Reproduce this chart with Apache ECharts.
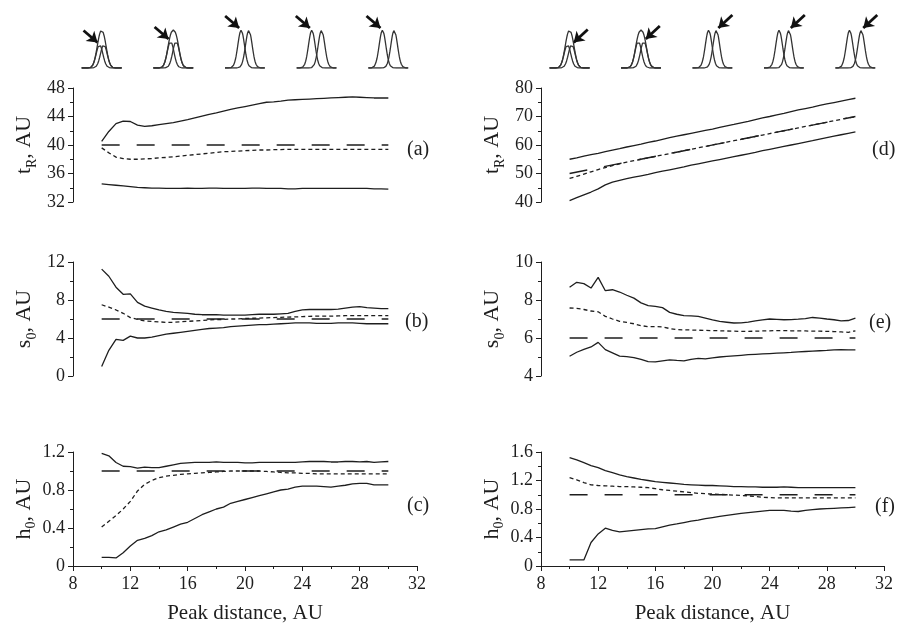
<!DOCTYPE html>
<html><head><meta charset="utf-8">
<script src="https://cdn.jsdelivr.net/npm/echarts@6/dist/echarts.min.js"></script>
<style>html,body{margin:0;padding:0;background:#fff}#c{width:897px;height:626px}</style>
</head><body><div id="c"></div>
<script>
// ---- data ----
const xs = [10,10.5,11,11.5,12,12.5,13,13.5,14,14.5,15,15.5,16,16.5,17,17.5,18,18.5,19,19.5,20,20.5,21,21.5,22,22.5,23,23.5,24,24.5,25,25.5,26,26.5,27,27.5,28,28.5,29,29.5,30];
const trueXs = [10, 30];

// (a) tR of first peak
const aUpper = [40.5,41.9,43.0,43.35,43.3,42.8,42.6,42.7,42.85,43.0,43.15,43.35,43.55,43.8,44.05,44.3,44.5,44.75,45.0,45.2,45.4,45.6,45.8,46.0,46.05,46.15,46.3,46.35,46.4,46.45,46.5,46.55,46.6,46.65,46.7,46.75,46.7,46.65,46.6,46.6,46.6];
const aMean  = [39.6,38.9,38.3,38.1,38.0,38.0,38.05,38.1,38.2,38.25,38.35,38.45,38.55,38.65,38.75,38.85,38.95,39.05,39.1,39.15,39.2,39.25,39.3,39.3,39.35,39.35,39.4,39.4,39.4,39.4,39.4,39.4,39.4,39.4,39.4,39.4,39.4,39.4,39.4,39.4,39.4];
const aLower = [34.55,34.45,34.35,34.25,34.15,34.05,34.0,33.95,33.95,33.9,33.9,33.9,33.95,33.9,33.9,33.95,33.95,33.9,33.9,33.9,33.9,33.95,33.95,33.9,33.9,33.9,33.85,33.85,33.9,33.9,33.9,33.9,33.9,33.9,33.9,33.9,33.9,33.9,33.85,33.85,33.8];
const aTrue  = [40, 40];

// (b) s0 of first peak
const bUpper = [11.25,10.5,9.35,8.6,8.65,7.75,7.35,7.15,6.95,6.8,6.7,6.65,6.6,6.5,6.45,6.45,6.45,6.4,6.4,6.4,6.4,6.45,6.5,6.5,6.5,6.55,6.6,6.8,6.95,7.0,7.0,7.0,7.0,7.05,7.15,7.25,7.3,7.2,7.15,7.1,7.1];
const bMean  = [7.5,7.25,6.95,6.6,6.15,5.95,5.8,5.75,5.7,5.65,5.65,5.7,5.75,5.8,5.85,5.9,5.95,5.95,6.0,6.0,6.05,6.08,6.1,6.12,6.15,6.18,6.2,6.22,6.25,6.28,6.3,6.3,6.3,6.32,6.35,6.35,6.35,6.35,6.35,6.35,6.35];
const bLower = [1.0,2.7,3.85,3.75,4.2,4.0,4.0,4.1,4.25,4.4,4.5,4.6,4.7,4.8,4.9,5.0,5.05,5.1,5.2,5.25,5.3,5.35,5.4,5.4,5.45,5.5,5.55,5.6,5.6,5.6,5.55,5.55,5.55,5.6,5.6,5.6,5.55,5.5,5.5,5.5,5.5];
const bTrue  = [6, 6];

// (c) h0 of first peak
const cUpper = [1.185,1.16,1.09,1.05,1.045,1.03,1.04,1.035,1.035,1.05,1.065,1.08,1.085,1.09,1.09,1.09,1.095,1.09,1.09,1.09,1.085,1.085,1.09,1.09,1.09,1.09,1.09,1.09,1.095,1.1,1.1,1.1,1.095,1.095,1.1,1.1,1.095,1.1,1.09,1.095,1.1];
const cMean  = [0.41,0.47,0.53,0.6,0.68,0.79,0.86,0.9,0.93,0.945,0.955,0.965,0.97,0.975,0.98,0.985,0.99,0.995,1.0,1.0,1.0,1.0,1.0,0.995,0.99,0.985,0.98,0.98,0.975,0.975,0.97,0.97,0.97,0.97,0.97,0.97,0.97,0.97,0.97,0.97,0.97];
const cLower = [0.09,0.09,0.085,0.14,0.21,0.27,0.29,0.32,0.36,0.38,0.41,0.44,0.46,0.5,0.54,0.57,0.6,0.62,0.66,0.68,0.7,0.72,0.74,0.76,0.78,0.8,0.81,0.83,0.84,0.84,0.84,0.835,0.83,0.84,0.85,0.865,0.87,0.87,0.855,0.855,0.855];
const cTrue  = [1, 1];

// (d) tR of second peak
const dUpper = [55.0,55.5,56.1,56.6,57.1,57.7,58.2,58.7,59.3,59.8,60.3,60.9,61.4,62.0,62.6,63.1,63.6,64.1,64.6,65.1,65.6,66.2,66.7,67.2,67.8,68.3,68.9,69.5,70.0,70.6,71.1,71.7,72.3,72.8,73.3,73.9,74.4,74.9,75.4,75.9,76.4];
const dMean  = [48.3,49.0,49.8,50.6,51.4,52.1,52.8,53.4,54.0,54.5,55.0,55.5,56.0,56.5,57.0,57.5,58.0,58.5,59.0,59.5,60.0,60.5,61.0,61.5,62.0,62.5,63.0,63.5,64.0,64.5,65.0,65.5,66.0,66.5,67.0,67.5,68.0,68.5,69.0,69.5,69.9];
const dLower = [40.5,41.5,42.5,43.5,44.6,46.0,47.0,47.6,48.2,48.7,49.2,49.7,50.3,50.8,51.3,51.8,52.3,52.9,53.4,53.9,54.4,54.9,55.4,55.9,56.4,56.9,57.4,58.0,58.5,59.0,59.5,60.0,60.5,61.0,61.5,62.1,62.6,63.1,63.6,64.1,64.6];
const dTrue  = [50, 70];

// (e) s0 of second peak
const eUpper = [8.67,8.93,8.86,8.63,9.19,8.49,8.54,8.42,8.25,8.1,7.85,7.7,7.66,7.6,7.35,7.25,7.18,7.16,7.14,7.05,6.95,6.87,6.83,6.79,6.8,6.84,6.9,6.95,7.0,6.98,6.96,6.97,6.99,7.02,7.08,7.05,7.0,6.96,6.9,6.92,7.05];
const eMean  = [7.58,7.56,7.5,7.42,7.38,7.14,7.0,6.88,6.82,6.75,6.65,6.6,6.6,6.58,6.5,6.44,6.43,6.42,6.41,6.4,6.39,6.38,6.37,6.36,6.35,6.35,6.36,6.37,6.38,6.39,6.39,6.38,6.37,6.37,6.36,6.36,6.35,6.34,6.32,6.3,6.38];
const eLower = [5.04,5.25,5.4,5.53,5.77,5.39,5.22,5.05,5.02,4.97,4.88,4.76,4.74,4.8,4.85,4.82,4.8,4.88,4.93,4.9,4.95,5.0,5.03,5.06,5.09,5.12,5.14,5.16,5.18,5.2,5.22,5.24,5.27,5.29,5.31,5.33,5.35,5.38,5.39,5.38,5.38];
const eTrue  = [6, 6];

// (f) h0 of second peak
const fUpper = [1.52,1.49,1.45,1.41,1.38,1.34,1.31,1.28,1.255,1.235,1.215,1.2,1.185,1.175,1.165,1.155,1.145,1.14,1.135,1.13,1.13,1.125,1.12,1.115,1.115,1.11,1.11,1.105,1.105,1.105,1.11,1.105,1.1,1.1,1.1,1.1,1.1,1.1,1.1,1.1,1.1];
const fMean  = [1.24,1.21,1.17,1.14,1.13,1.125,1.12,1.115,1.115,1.11,1.105,1.1,1.085,1.07,1.06,1.05,1.04,1.03,1.02,1.015,1.01,1.005,1.0,0.995,0.99,0.985,0.975,0.965,0.96,0.955,0.955,0.955,0.955,0.955,0.955,0.955,0.955,0.955,0.955,0.955,0.955];
const fLower = [0.085,0.085,0.085,0.33,0.45,0.53,0.5,0.48,0.49,0.5,0.51,0.52,0.525,0.55,0.575,0.59,0.61,0.63,0.645,0.665,0.68,0.695,0.71,0.725,0.74,0.75,0.76,0.77,0.78,0.78,0.78,0.77,0.765,0.78,0.79,0.8,0.805,0.81,0.815,0.82,0.825];
const fTrue  = [1, 1];

// axis ticks
const xTicks = {min: 8, max: 32, interval: 4};
const yTicksA = {min: 32, max: 48, interval: 4};
const yTicksB = {min: 0, max: 12, interval: 4};
const yTicksC = {min: 0, max: 1.2, interval: 0.4};
const yTicksD = {min: 40, max: 80, interval: 10};
const yTicksE = {min: 4, max: 10, interval: 2};
const yTicksF = {min: 0, max: 1.6, interval: 0.4};
const panelLabels = ['(a)','(b)','(c)','(d)','(e)','(f)'];
const yNames = [['t','R'],['s','0'],['h','0'],['t','R'],['s','0'],['h','0']];
const xName = 'Peak distance, AU';

// peak-shape icons at the top (peak distance they illustrate, separation in px)
const iconDist = [10, 15, 20, 25, 30];
const iconSepPx = [4.3, 5.5, 7.7, 9.7, 11.7];
const iconShowSum = [true, true, false, false, false];
const peakProfile = [1, 0.955, 0.832, 0.662, 0.48, 0.318, 0.192, 0.106, 0.053, 0.024, 0.01, 0];

// ---- layout ----
const FONT = '"Liberation Serif", "DejaVu Serif", serif';
const INK = '#1e1e1e';
const colLeft = [73, 541];
const colWidth = [344, 343];
const rowTop = [88, 262, 452];
const rowH = 114;
const iconBase = 68, iconUnit = 38, iconTop = 12;

const chart = echarts.init(document.getElementById('c'), null, {renderer: 'canvas'});
const grids = [], xAxes = [], yAxes = [], series = [], graphics = [];
const yTicks = [yTicksA, yTicksB, yTicksC, yTicksD, yTicksE, yTicksF];
const panels = [
  [aUpper, aMean, aLower, aTrue],
  [bUpper, bMean, bLower, bTrue],
  [cUpper, cMean, cLower, cTrue],
  [dUpper, dMean, dLower, dTrue],
  [eUpper, eMean, eLower, eTrue],
  [fUpper, fMean, fLower, fTrue]
];

function lineSer(idx, xv, yv, kind) {
  let t = 'solid';
  if (kind === 'short') t = [4, 3];
  if (kind === 'long') t = [18, 17];
  return {
    type: 'line', xAxisIndex: idx, yAxisIndex: idx,
    data: xv.map((x, i) => [x, yv[i]]),
    showSymbol: false, symbol: 'none', animation: false, silent: true,
    lineStyle: {color: INK, width: kind === 'long' ? 1.4 : 1.3, type: t}
  };
}

for (let p = 0; p < 6; p++) {
  const col = p < 3 ? 0 : 1, row = p % 3;
  const bottom = row === 2;
  grids.push({left: colLeft[col], width: colWidth[col], top: rowTop[row], height: rowH});
  xAxes.push({
    type: 'value', gridIndex: p, min: xTicks.min, max: xTicks.max, interval: xTicks.interval,
    show: true,
    axisLine: {show: bottom, onZero: false, lineStyle: {color: INK, width: 1}},
    axisTick: {show: bottom, length: 5, lineStyle: {color: INK}},
    minorTick: {show: bottom, splitNumber: 2, length: 3, lineStyle: {color: INK}},
    axisLabel: {show: bottom, margin: 9, color: INK, fontFamily: FONT, fontSize: 18},
    splitLine: {show: false}, minorSplitLine: {show: false},
    name: bottom ? xName : '', nameLocation: 'middle', nameGap: 37,
    nameTextStyle: {color: INK, fontFamily: FONT, fontSize: 21}
  });
  const yt = yTicks[p];
  yAxes.push({
    type: 'value', gridIndex: p, min: yt.min, max: yt.max, interval: yt.interval,
    axisLine: {show: true, onZero: false, lineStyle: {color: INK, width: 1}},
    axisTick: {show: true, length: 5, lineStyle: {color: INK}},
    minorTick: {show: true, splitNumber: 2, length: 3, lineStyle: {color: INK}},
    axisLabel: {margin: 8, color: INK, fontFamily: FONT, fontSize: 18},
    splitLine: {show: false}, minorSplitLine: {show: false},
    name: '{m|' + yNames[p][0] + '}{s|' + yNames[p][1] + '}{m|, AU}',
    nameLocation: 'middle', nameRotate: 90, nameGap: 34,
    nameTextStyle: {
      color: INK,
      rich: {
        m: {fontFamily: FONT, fontSize: 22, color: INK},
        s: {fontFamily: FONT, fontSize: 14, color: INK, padding: [15, 0, 0, 0]}
      }
    }
  });
  const d = panels[p];
  series.push(lineSer(p, xs, d[0], 'solid'));
  series.push(lineSer(p, xs, d[1], 'short'));
  series.push(lineSer(p, xs, d[2], 'solid'));
  series.push(lineSer(p, trueXs, d[3], 'long'));
}

// panel labels
const labelPos = [[407, 150], [405, 322], [407, 506], [872, 150], [869, 323], [875, 507]];
panelLabels.forEach((t, i) => {
  graphics.push({type: 'text', x: labelPos[i][0], y: labelPos[i][1],
    style: {text: t, font: '20px ' + FONT, fill: INK, textVerticalAlign: 'middle'}});
});

// icon grids
function prof(dx) {
  const a = Math.abs(dx);
  if (a >= 11) return 0;
  const i = Math.floor(a), f = a - i;
  return peakProfile[i] * (1 - f) + peakProfile[i + 1] * f;
}
for (let col = 0; col < 2; col++) {
  const gi = 6 + col;
  const iconH = iconBase - iconTop;
  grids.push({left: colLeft[col], width: colWidth[col], top: iconTop, height: iconH});
  xAxes.push({type: 'value', gridIndex: gi, min: xTicks.min, max: xTicks.max, show: false});
  yAxes.push({type: 'value', gridIndex: gi, min: 0, max: iconH / iconUnit, show: false});
  const pxU = (xTicks.max - xTicks.min) / colWidth[col];
  const pyU = 1 / iconUnit;
  const arrows = [];
  iconDist.forEach((cd, k) => {
    const half = iconSepPx[k] / 2;
    const offs = [];
    for (let o = -20; o <= 20; o += 0.5) offs.push(o);
    const L = offs.map(o => prof(o + half));
    const R = offs.map(o => prof(o - half));
    const S = offs.map((o, i) => L[i] + R[i]);
    const sc = iconShowSum[k] ? 1 / Math.max(...S) : 1;
    const mk = arr => offs.map((o, i) => [cd + o * pxU, arr[i] * sc]);
    const st = {type: 'line', xAxisIndex: gi, yAxisIndex: gi, showSymbol: false, symbol: 'none',
      animation: false, silent: true, lineStyle: {color: '#333', width: 1.3}};
    series.push(Object.assign({}, st, {data: mk(L)}));
    series.push(Object.assign({}, st, {data: mk(R)}));
    if (iconShowSum[k]) series.push(Object.assign({}, st, {data: mk(S)}));
    const h = sc;
    if (col === 0) {
      const tip = [cd + (-half - 2) * pxU, h + 2 * pyU];
      arrows.push({coords: [[tip[0] - 14 * pxU, tip[1] + 12 * pyU], tip]});
    } else {
      const tip = [cd + (half + 2) * pxU, h + 2 * pyU];
      arrows.push({coords: [[tip[0] + 14 * pxU, tip[1] + 13 * pyU], tip]});
    }
  });
  series.push({type: 'lines', coordinateSystem: 'cartesian2d', xAxisIndex: gi, yAxisIndex: gi,
    clip: false, silent: true, animation: false,
    symbol: ['none', 'arrow'], symbolSize: 10,
    lineStyle: {color: '#111', width: 2.8, opacity: 1, curveness: 0},
    data: arrows});
}

chart.setOption({
  backgroundColor: '#fff',
  animation: false,
  grid: grids, xAxis: xAxes, yAxis: yAxes, series: series,
  graphic: graphics
});
</script></body></html>
